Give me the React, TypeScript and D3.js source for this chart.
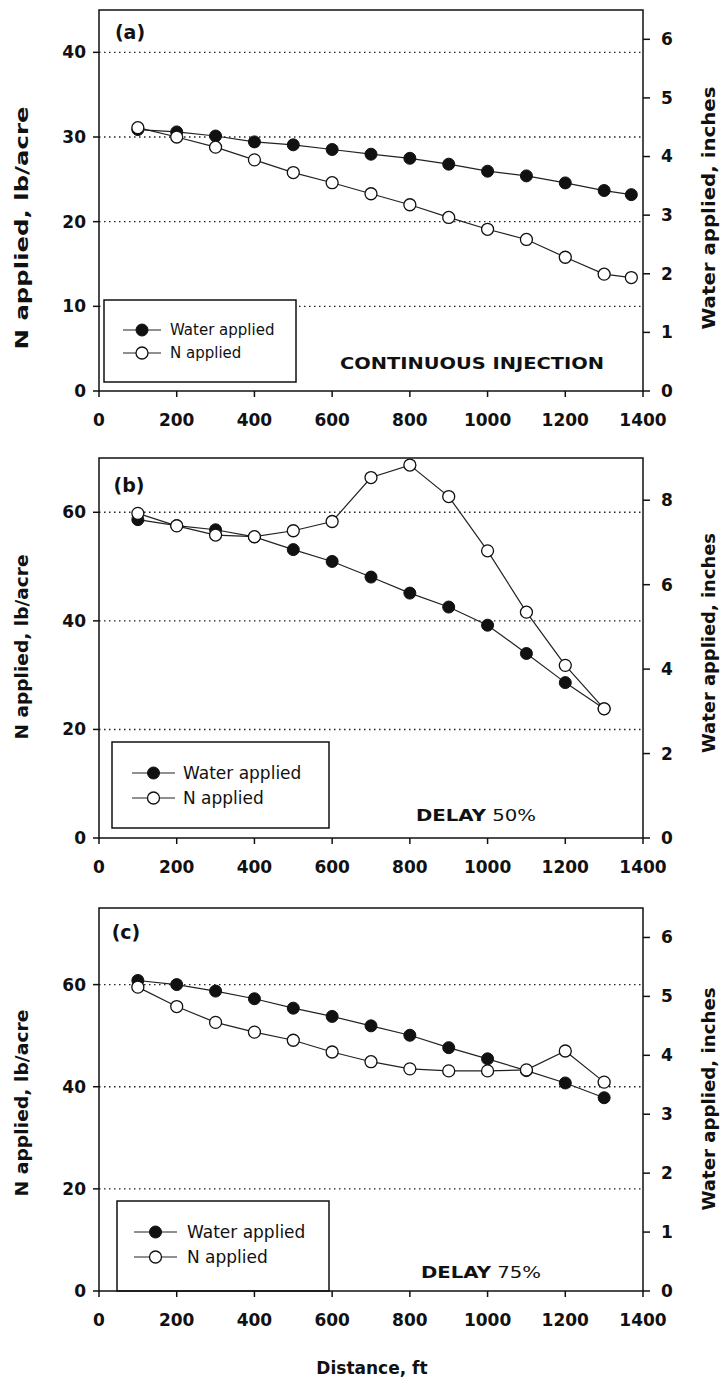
import React from "react";
import * as d3 from "d3";

// ---------- data ----------
const distA = [100, 200, 300, 400, 500, 600, 700, 800, 900, 1000, 1100, 1200, 1300, 1370];
const waterA = [4.46, 4.42, 4.35, 4.25, 4.2, 4.12, 4.04, 3.97, 3.87, 3.75, 3.67, 3.55, 3.42, 3.35];
const nA = [31.1, 30.0, 28.8, 27.3, 25.8, 24.6, 23.3, 22.0, 20.5, 19.1, 17.9, 15.8, 13.8, 13.4];

const distB = [100, 200, 300, 400, 500, 600, 700, 800, 900, 1000, 1100, 1200, 1300];
const waterB = [7.54, 7.4, 7.3, 7.13, 6.83, 6.55, 6.18, 5.8, 5.47, 5.04, 4.37, 3.68, 3.06];
const nB = [59.8, 57.5, 55.8, 55.5, 56.6, 58.3, 66.4, 68.7, 62.9, 52.9, 41.6, 31.8, 23.8];

const distC = [100, 200, 300, 400, 500, 600, 700, 800, 900, 1000, 1100, 1200, 1300];
const waterC = [5.27, 5.2, 5.09, 4.96, 4.8, 4.66, 4.5, 4.34, 4.13, 3.94, 3.74, 3.53, 3.28];
const nC = [59.5, 55.7, 52.6, 50.7, 49.1, 46.8, 44.9, 43.5, 43.1, 43.1, 43.3, 47.0, 40.9];

const xTicks = [0, 200, 400, 600, 800, 1000, 1200, 1400];
const leftTicksA = [0, 10, 20, 30, 40];
const rightTicksA = [0, 1, 2, 3, 4, 5, 6];
const leftTicksB = [0, 20, 40, 60];
const rightTicksB = [0, 2, 4, 6, 8];
const leftTicksC = [0, 20, 40, 60];
const rightTicksC = [0, 1, 2, 3, 4, 5, 6];

const legendLabels = ["Water applied", "N applied"];
const leftTitle = "N applied, lb/acre";
const rightTitle = "Water applied, inches";
const xTitle = "Distance, ft";

const FONT = "'DejaVu Sans', sans-serif";

type PanelProps = {
  top: number;
  bottom: number;
  leftMax: number;
  rightMax: number;
  leftTicks: number[];
  rightTicks: number[];
  dist: number[];
  water: number[];
  nApp: number[];
  label: string;
  labelPos: [number, number];
  note: string;
  noteNum: string;
  notePos: [number, number];
  noteLen: number;
  legend: { x: number; y: number; w: number; h: number; row1: number; row2: number; lx1: number; lx2: number; tx: number; fs: number };
  leftTitlePos: [number, number];
  leftTitleLen: number;
  rightTitlePos: [number, number];
  rightTitleLen: number;
};

const X0 = 99;
const X1 = 643;

function Panel(p: PanelProps) {
  const x = d3.scaleLinear().domain([0, 1400]).range([X0, X1]);
  const yL = d3.scaleLinear().domain([0, p.leftMax]).range([p.bottom, p.top]);
  const yR = d3.scaleLinear().domain([0, p.rightMax]).range([p.bottom, p.top]);
  const waterPts = p.dist.map((d, i) => [x(d), yR(p.water[i])] as [number, number]);
  const nPts = p.dist.map((d, i) => [x(d), yL(p.nApp[i])] as [number, number]);
  const line = d3.line();
  const lg = p.legend;
  const lmx = (lg.lx1 + lg.lx2) / 2;
  return (
    <g>
      {/* gridlines */}
      {p.leftTicks.filter((t) => t > 0).map((t) => (
        <line key={"g" + t} x1={X0} x2={X1} y1={yL(t)} y2={yL(t)} stroke="#222" strokeWidth={1.4} strokeDasharray="1.5,3.5" />
      ))}
      {/* legend */}
      <rect x={lg.x} y={lg.y} width={lg.w} height={lg.h} fill="#fff" stroke="#111" strokeWidth={1.5} />
      <line x1={lg.lx1} x2={lg.lx2} y1={lg.row1} y2={lg.row1} stroke="#222" strokeWidth={1.2} />
      <circle cx={lmx} cy={lg.row1} r={6} fill="#111" stroke="#111" strokeWidth={1} />
      <text x={lg.tx} y={lg.row1} dy="0.35em" fontSize={lg.fs} fontFamily={FONT} fill="#111">{legendLabels[0]}</text>
      <line x1={lg.lx1} x2={lg.lx2} y1={lg.row2} y2={lg.row2} stroke="#222" strokeWidth={1.2} />
      <circle cx={lmx} cy={lg.row2} r={6} fill="#fff" stroke="#111" strokeWidth={1.3} />
      <text x={lg.tx} y={lg.row2} dy="0.35em" fontSize={lg.fs} fontFamily={FONT} fill="#111">{legendLabels[1]}</text>
      {/* frame */}
      <rect x={X0} y={p.top} width={X1 - X0} height={p.bottom - p.top} fill="none" stroke="#111" strokeWidth={1.5} />
      {/* x ticks */}
      {xTicks.map((t) => (
        <g key={"x" + t}>
          <line x1={x(t)} x2={x(t)} y1={p.bottom} y2={p.bottom + 6} stroke="#111" strokeWidth={1.5} />
          <text x={x(t)} y={p.bottom + 29} dy="0.35em" textAnchor="middle" fontSize={17} fontWeight="bold" fontFamily={FONT} fill="#111">{t}</text>
        </g>
      ))}
      {/* left ticks */}
      {p.leftTicks.map((t) => (
        <g key={"l" + t}>
          <line x1={X0 - 6} x2={X0} y1={yL(t)} y2={yL(t)} stroke="#111" strokeWidth={1.5} />
          <text x={X0 - 13} y={yL(t)} dy="0.35em" textAnchor="end" fontSize={17} fontWeight="bold" fontFamily={FONT} fill="#111">{t}</text>
        </g>
      ))}
      {/* right ticks */}
      {p.rightTicks.map((t) => (
        <g key={"r" + t}>
          <line x1={X1} x2={X1 + 7} y1={yR(t)} y2={yR(t)} stroke="#111" strokeWidth={1.5} />
          <text x={X1 + 18} y={yR(t)} dy="0.35em" textAnchor="start" fontSize={17} fontWeight="bold" fontFamily={FONT} fill="#111">{t}</text>
        </g>
      ))}
      {/* series lines */}
      <path d={line(waterPts) || ""} fill="none" stroke="#222" strokeWidth={1.2} />
      <path d={line(nPts) || ""} fill="none" stroke="#222" strokeWidth={1.2} />
      {waterPts.map((pt, i) => (
        <circle key={"w" + i} cx={pt[0]} cy={pt[1]} r={6} fill="#111" stroke="#111" strokeWidth={1} />
      ))}
      {nPts.map((pt, i) => (
        <circle key={"n" + i} cx={pt[0]} cy={pt[1]} r={6} fill="#fff" stroke="#111" strokeWidth={1.3} />
      ))}
      {/* panel label */}
      <text x={p.labelPos[0]} y={p.labelPos[1]} dy="0.35em" textAnchor="middle" fontSize={19} fontWeight="bold" fontFamily={FONT} fill="#111">{p.label}</text>
      {/* annotation */}
      <text x={p.notePos[0]} y={p.notePos[1]} dy="0.35em" textAnchor="middle" fontSize={16} fontWeight="bold" fontFamily={FONT} fill="#111" textLength={p.noteLen} lengthAdjust="spacingAndGlyphs">
        {p.note}
        {p.noteNum ? <tspan fontWeight="normal">{" " + p.noteNum}</tspan> : null}
      </text>
      {/* axis titles */}
      <text transform={`translate(${p.leftTitlePos[0]},${p.leftTitlePos[1]}) rotate(-90)`} textAnchor="middle" dy="0.35em" fontSize={17} fontWeight="bold" fontFamily={FONT} fill="#111" textLength={p.leftTitleLen} lengthAdjust="spacingAndGlyphs">{leftTitle}</text>
      <text transform={`translate(${p.rightTitlePos[0]},${p.rightTitlePos[1]}) rotate(-90)`} textAnchor="middle" dy="0.35em" fontSize={17} fontWeight="bold" fontFamily={FONT} fill="#111" textLength={p.rightTitleLen} lengthAdjust="spacingAndGlyphs">{rightTitle}</text>
    </g>
  );
}

export default function App() {
  return (
    <svg width={722} height={1381} style={{ position: "absolute", left: 0, top: 0, background: "#fff" }}>
      <rect x={0} y={0} width={722} height={1381} fill="#fff" />
      <Panel
        top={10}
        bottom={391}
        leftMax={45}
        rightMax={6.5}
        leftTicks={leftTicksA}
        rightTicks={rightTicksA}
        dist={distA}
        water={waterA}
        nApp={nA}
        label="(a)"
        labelPos={[130, 32]}
        note="CONTINUOUS INJECTION"
        noteNum=""
        notePos={[472, 363]}
        noteLen={264}
        legend={{ x: 104, y: 300, w: 192, h: 82, row1: 330, row2: 353, lx1: 123, lx2: 161, tx: 170, fs: 15 }}
        leftTitlePos={[22, 228]}
        leftTitleLen={243}
        rightTitlePos={[709, 208]}
        rightTitleLen={243}
      />
      <Panel
        top={458}
        bottom={838}
        leftMax={70}
        rightMax={9}
        leftTicks={leftTicksB}
        rightTicks={rightTicksB}
        dist={distB}
        water={waterB}
        nApp={nB}
        label="(b)"
        labelPos={[129, 485]}
        note="DELAY"
        noteNum="50%"
        notePos={[476, 815]}
        noteLen={120}
        legend={{ x: 112, y: 742, w: 217, h: 86, row1: 773, row2: 798, lx1: 132, lx2: 175, tx: 183, fs: 17 }}
        leftTitlePos={[22, 647]}
        leftTitleLen={185}
        rightTitlePos={[709, 643]}
        rightTitleLen={220}
      />
      <Panel
        top={908}
        bottom={1291}
        leftMax={75}
        rightMax={6.5}
        leftTicks={leftTicksC}
        rightTicks={rightTicksC}
        dist={distC}
        water={waterC}
        nApp={nC}
        label="(c)"
        labelPos={[126, 932]}
        note="DELAY"
        noteNum="75%"
        notePos={[481, 1272]}
        noteLen={120}
        legend={{ x: 117, y: 1201, w: 212, h: 90, row1: 1232, row2: 1257, lx1: 134, lx2: 177, tx: 187, fs: 17 }}
        leftTitlePos={[22, 1103]}
        leftTitleLen={187}
        rightTitlePos={[709, 1099]}
        rightTitleLen={223}
      />
      <text x={372} y={1368} dy="0.35em" textAnchor="middle" fontSize={17} fontWeight="bold" fontFamily={FONT} fill="#111">{xTitle}</text>
    </svg>
  );
}
